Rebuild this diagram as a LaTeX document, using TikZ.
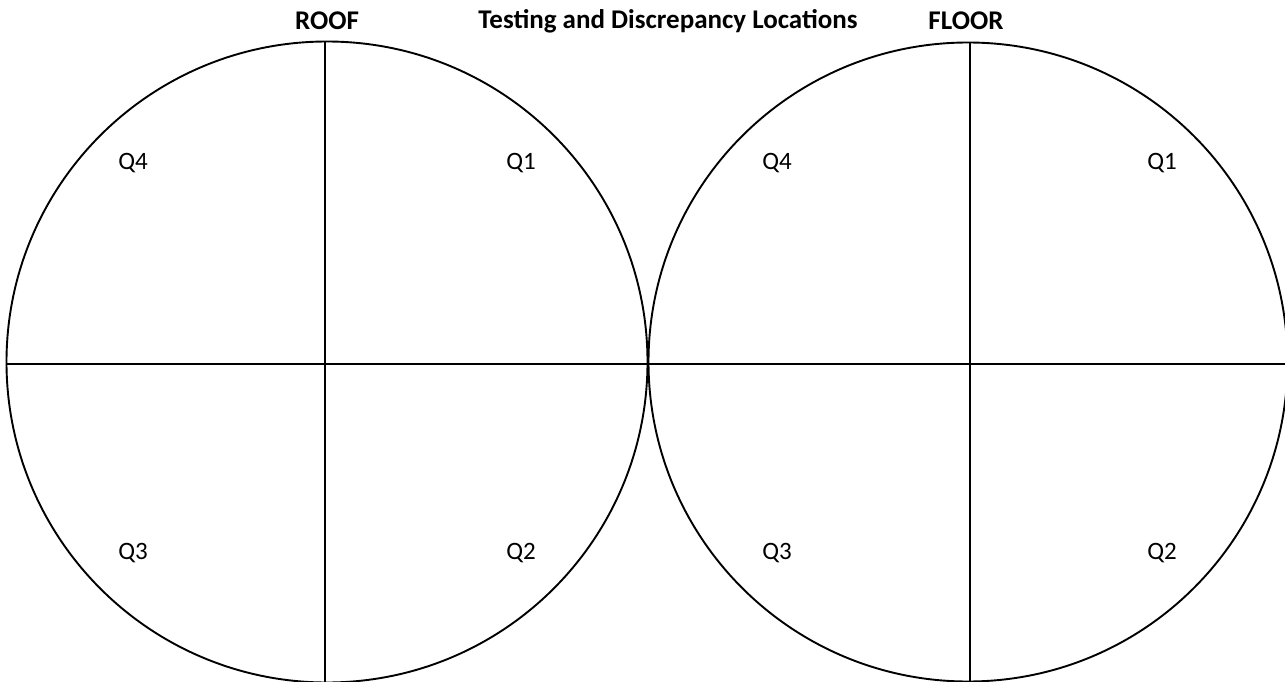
\documentclass[tikz,border=0pt]{standalone}
\usepackage{fontspec}
\setmainfont{Carlito}
\begin{document}
\begin{tikzpicture}[x=1pt,y=-1pt,
  ring/.style={draw=black,line width=1.9pt},
  axis/.style={draw=black,line width=2.1pt},
  qlabel/.style={font=\fontsize{25}{28}\selectfont,inner sep=0pt},
  tlabel/.style={font=\fontsize{27}{30}\selectfont\bfseries,inner sep=0pt}]
\useasboundingbox[fill=white] (0,0) rectangle (1285,682);
\coordinate (cL) at (327,362);
\coordinate (cR) at (968,362);
\draw[ring] (cL) circle[radius=320.5];
\draw[ring] (cR) circle[radius=319.5];
\coordinate (hL) at (7,364);
\coordinate (hR) at (1287,364);
\coordinate (vLt) at (325,42);
\coordinate (vLb) at (325,690);
\coordinate (vRt) at (970,42);
\coordinate (vRb) at (970,690);
\draw[axis] (hL) -- (hR);
\draw[axis] (vLt) -- (vLb);
\draw[axis] (vRt) -- (vRb);
\node[tlabel] (roof) at (327,21) {ROOF};
\node[tlabel] (title) at (668,21) {Testing and Discrepancy Locations};
\node[tlabel] (floor) at (966,21) {FLOOR};
\node[qlabel] (q4a) at (133,163) {Q4};
\node[qlabel] (q1a) at (521,163) {Q1};
\node[qlabel] (q3a) at (133,553) {Q3};
\node[qlabel] (q2a) at (521,553) {Q2};
\node[qlabel] (q4b) at (777,163) {Q4};
\node[qlabel] (q1b) at (1162,163) {Q1};
\node[qlabel] (q3b) at (777,553) {Q3};
\node[qlabel] (q2b) at (1162,553) {Q2};
\end{tikzpicture}
\end{document}
